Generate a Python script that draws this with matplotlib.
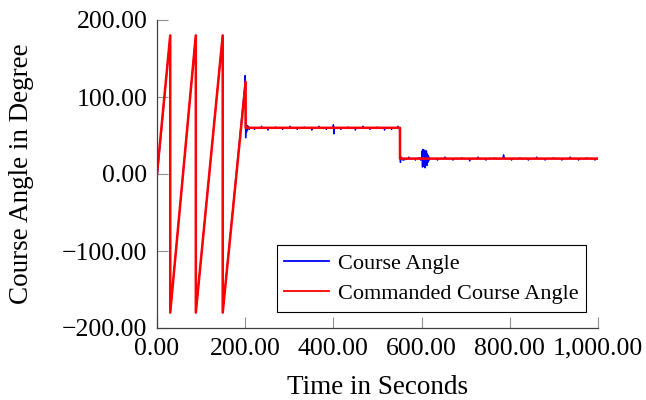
import matplotlib
matplotlib.use('Agg')
import matplotlib.pyplot as plt
from matplotlib.ticker import FuncFormatter

plt.rcParams['font.family'] = ['Liberation Serif', 'DejaVu Serif']

# Commanded course angle (deg) over time (s)
cmd_t = [0, 30, 30, 88, 88, 149, 149, 201, 201, 551, 551, 1000]
cmd_angle = [0, 180, -180, 180, -180, 180, -180, 120, 60, 60, 20, 20]

# Measured course angle, including the settling spikes and jitter
course_t = [0, 1, 30, 30, 88, 88, 149, 149, 199, 200, 201, 202, 203, 204, 205, 207, 209, 212,
            220, 221, 222, 236, 237, 238, 251, 252, 253, 268, 269, 270, 284, 285, 286,
            301, 302, 303, 317, 318, 319, 333, 334, 335, 350, 351, 352, 366, 367, 368,
            383, 384, 385, 399, 400, 401, 402, 403, 416, 417, 418, 432, 433, 434,
            449, 450, 451, 466, 467, 468, 482, 483, 484, 498, 499, 500, 515, 516, 517,
            531, 532, 533, 545, 546, 547, 550,
            551, 552, 554, 558, 570, 571, 572, 585, 586, 587, 596, 598, 600, 601, 602, 603,
            604, 605, 606, 607, 608, 609, 610, 611, 612, 613, 614, 615, 616, 617, 618, 620,
            635, 636, 637, 652, 653, 654, 670, 671, 672, 690, 691, 692, 708, 709, 710,
            727, 728, 729, 745, 746, 747, 764, 765, 766, 784, 786, 788, 803, 804, 805,
            822, 823, 824, 841, 842, 843, 860, 861, 862, 879, 880, 881, 898, 899, 900,
            917, 918, 919, 936, 937, 938, 955, 956, 957, 974, 975, 976, 992, 993, 994, 1000]
course_angle = [-2, 1, 180, -180, 180, -180, 180, -180, 114, 128, 47, 66, 54, 63, 57, 62, 58, 60,
                60, 58, 60, 60, 62, 60, 60, 57, 60, 60, 61, 60, 60, 58, 60,
                60, 62, 60, 60, 58, 60, 60, 61, 60, 60, 57, 60, 60, 62, 60,
                60, 58, 60, 60, 64, 52, 61, 60, 60, 58, 60, 60, 61, 60,
                60, 57, 60, 60, 62, 60, 60, 58, 60, 60, 61, 60, 60, 57, 60,
                60, 58, 60, 60, 62, 60, 60,
                20, 15, 22, 18, 20, 22, 20, 20, 18, 20, 21, 18, 20, 30, 9, 32,
                10, 28, 12, 31, 8, 27, 14, 30, 11, 26, 15, 24, 17, 22, 19, 20,
                20, 18, 20, 20, 22, 20, 20, 18, 20, 20, 21, 20, 20, 17, 20,
                20, 22, 20, 20, 18, 20, 20, 21, 20, 20, 25, 20, 20, 18, 20,
                20, 21, 20, 20, 18, 20, 20, 22, 20, 20, 18, 20, 20, 21, 20,
                20, 18, 20, 20, 22, 20, 20, 18, 20, 20, 21, 20, 20, 18, 20, 20]

x_ticks = [0, 200, 400, 600, 800, 1000]
y_ticks = [-200, -100, 0, 100, 200]


def fmt(v, pos):
    return f"{v:,.2f}".replace('-', '\u2212')


fig = plt.figure(figsize=(6.46, 4.0), dpi=100)
ax = fig.add_axes([157 / 646, 72 / 400, 441 / 646, 308 / 400])

ax.plot(course_t, course_angle, color='blue', lw=1.0, label='Course Angle')
ax.plot(cmd_t, cmd_angle, color='red', lw=1.8, label='Commanded Course Angle')

ax.set_xlim(0, 1000)
ax.set_ylim(-200, 200)
ax.set_xticks(x_ticks)
ax.set_yticks(y_ticks)
ax.xaxis.set_major_formatter(FuncFormatter(fmt))
ax.yaxis.set_major_formatter(FuncFormatter(fmt))

for side in ['top', 'right']:
    ax.spines[side].set_visible(False)
for side in ['left', 'bottom']:
    ax.spines[side].set_color('#404040')
    ax.spines[side].set_linewidth(0.9)
ax.tick_params(direction='in', length=8, width=0.8, color='#909090',
               labelsize=18.5, pad=7)

ax.set_xlabel('Time in Seconds', fontsize=19.5, labelpad=11)
ax.set_ylabel('Course Angle in Degree', fontsize=19.5, labelpad=20)

leg = ax.legend(loc='lower right', bbox_to_anchor=(0.973, 0.052), fontsize=16,
                fancybox=False, framealpha=1, edgecolor='black', handlelength=2.0,
                borderpad=0.35, labelspacing=0.45, handletextpad=0.4, borderaxespad=0)
leg.get_frame().set_linewidth(0.8)
for line in leg.get_lines():
    line.set_linewidth(1.3)

fig.savefig('out.png', dpi=100)
